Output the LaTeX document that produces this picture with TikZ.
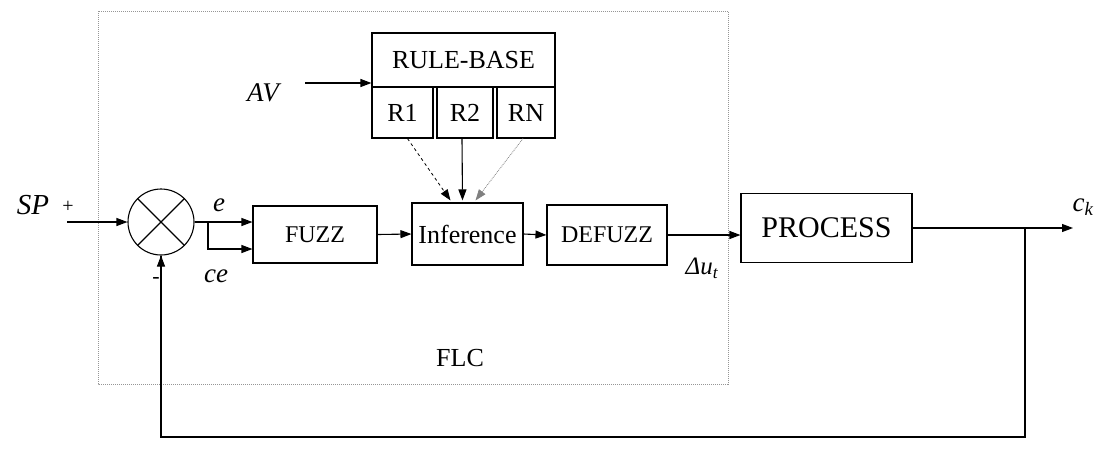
\documentclass[tikz,border=0pt]{standalone}
\usepackage{fontspec}
\setmainfont{Liberation Serif}
\usetikzlibrary{arrows.meta,positioning,calc}
\definecolor{flcgray}{RGB}{150,150,150}

\begin{document}
\begin{tikzpicture}[
    x=1pt, y=-1pt,
    line width=1.1pt,
    block/.style={rectangle, draw, inner sep=0pt, font=\fontsize{24}{28}\selectfont},
    rule/.style={block, minimum height=51pt, font=\fontsize{26}{30}\selectfont},
    lbl/.style={font=\fontsize{27}{31}\selectfont\itshape, inner sep=0pt},
    arrow/.style={-{Triangle[length=11pt,width=8pt]}}
]
\useasboundingbox (0,0) rectangle (1096,467);

% FLC frame
\draw[flcgray, densely dotted, line width=1pt] (98,11) rectangle (728,384);
\node[font=\fontsize{26}{30}\selectfont] (flc) at (460,358) {FLC};

% Blocks
\node[circle, draw, minimum size=66pt, inner sep=0pt] (sum) at (161,222) {};
\draw (sum.north west) -- (sum.south east);
\draw (sum.north east) -- (sum.south west);

\node[block, minimum width=124pt, minimum height=57pt] (fuzz) at (315,234.5) {FUZZ};
\node[block, minimum width=111pt, minimum height=62pt, font=\fontsize{26}{30}\selectfont] (infer) at (467.5,234) {Inference};
\node[block, minimum width=120pt, minimum height=60pt] (defuzz) at (607,235) {DEFUZZ};
\node[block, minimum width=171pt, minimum height=69pt, font=\fontsize{30}{34}\selectfont] (process) at (826.5,228) {PROCESS};

% Rule base
\node[block, minimum width=183pt, minimum height=54pt, font=\fontsize{26}{30}\selectfont] (rulebase) at (463.5,60) {RULE-BASE};
\node[rule, minimum width=61pt] (r1) at (402.5,112.5) {R1};
\node[rule, minimum width=56pt] (r2) at (465,112.5) {R2};
\node[rule, minimum width=58pt] (rn) at (526,112.5) {RN};

% Labels
\node[lbl, font=\fontsize{29}{33}\selectfont\itshape] (sp) at (33,205) {SP};
\node[font=\fontsize{20}{24}\selectfont] (plus) at (68,207) {+};
\node[font=\fontsize{22}{26}\selectfont] (minus) at (156,280) {-};
\node[lbl] (e) at (219,205) {e};
\node[lbl] (ce) at (216,276) {ce};
\node[lbl] (av) at (263,93) {AV};
\node[lbl, font=\fontsize{25}{29}\selectfont\itshape] (du) at (702,268) {Δu\textsubscript{t}};
\node[lbl] (ck) at (1083,207) {c\textsubscript{k}};

% Coordinates
\coordinate (spin) at (67,222);
\coordinate (split) at (208,222);
\coordinate (avin) at (305,83);
\coordinate (out) at (1073,228);
\coordinate (tap) at (1025,228);
\coordinate (fb) at (1025,437);

% Signals
\draw[arrow] (spin) -- (sum.west);
\draw (sum.east) -- (split);
\draw[arrow] (split) -- (split -| fuzz.west);
\draw[arrow] (split) |- ($(fuzz.west)+(0,14.5)$);
\draw[arrow] (fuzz.east) -- (infer.west);
\draw[arrow] (infer.east) -- (defuzz.west);
\draw[arrow] (defuzz.east) -- (defuzz.east -| process.west);
\draw[arrow] (process.east |- out) -- (out);
\draw (tap) -- (fb) -| (sum.south);
\draw[arrow] ($(sum.south)+(0,12)$) -- (sum.south);
\draw[arrow] (avin) -- (avin -| rulebase.west);

% Rules to inference
\draw[arrow, dashed, line width=0.8pt] ([xshift=5pt]r1.south) -- ([xshift=-17pt,yshift=2pt]infer.north);
\draw[arrow] ([xshift=-3pt]r2.south) -- ([xshift=-5pt,yshift=2pt]infer.north);
\draw[arrow, densely dotted, line width=0.8pt, gray] ([xshift=-3pt]rn.south) -- ([xshift=8pt,yshift=2pt]infer.north);

\end{tikzpicture}
\end{document}
